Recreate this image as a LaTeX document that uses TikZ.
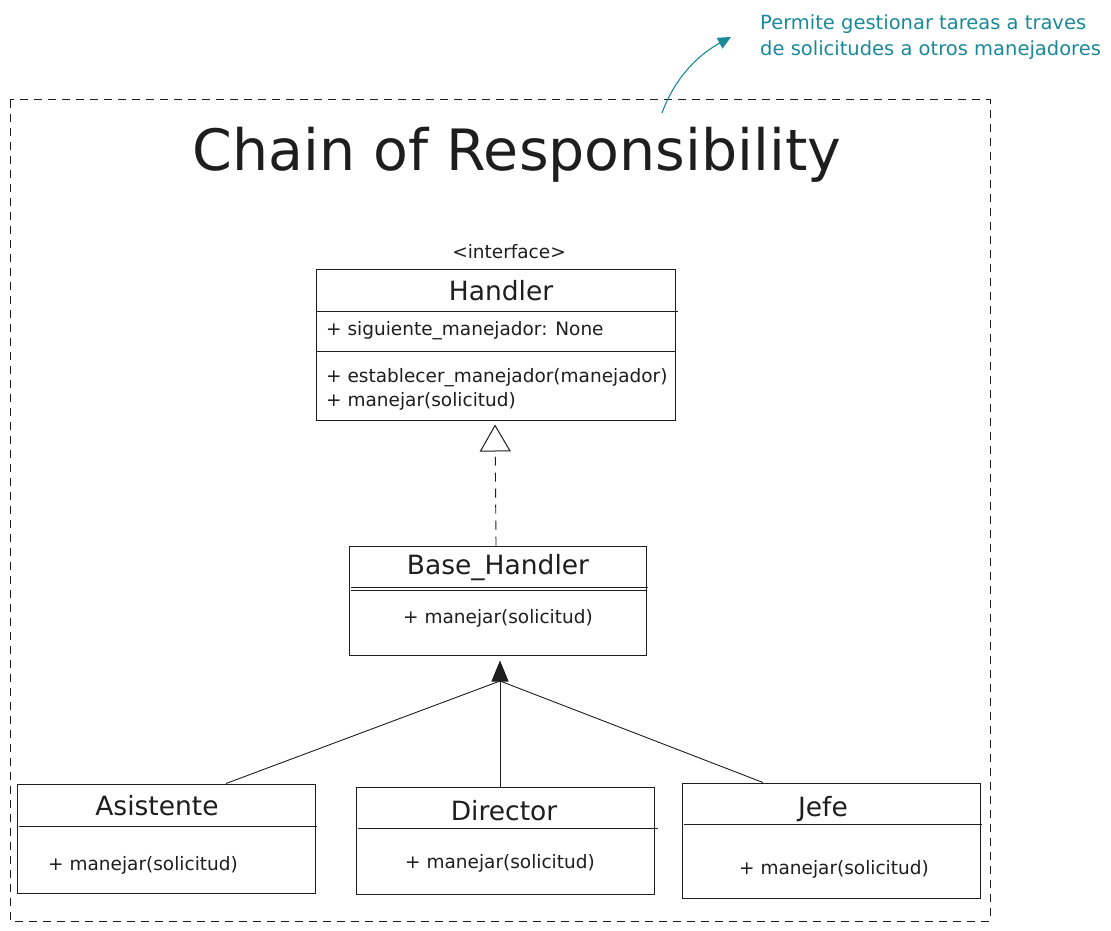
\documentclass[tikz,border=0pt]{standalone}
\usepackage{fontspec}
\setmainfont{DejaVu Sans}
\usetikzlibrary{arrows.meta}
\definecolor{note}{HTML}{1A8A98}
\definecolor{ink}{HTML}{1E1E1E}
\tikzset{
  umlbox/.style={draw=ink, line width=1pt, rectangle, inner sep=0pt},
  divider/.style={draw=ink, line width=1pt},
  ctitle/.style={font=\fontsize{26.5}{30}\selectfont, text=ink, inner sep=0pt},
  member/.style={font=\fontsize{18.5}{24}\selectfont, text=ink, inner sep=0pt},
  link/.style={draw=ink, line width=0.9pt},
}
\begin{document}
\begin{tikzpicture}[x=1pt,y=-1pt]
\useasboundingbox (0,0) rectangle (1111,931);
\fill[white] (0,0) rectangle (1111,931);
% frame
\draw[ink, line width=1pt, dash pattern=on 8pt off 6pt] (10,100) rectangle (990,921);
% title
\node[font=\fontsize{57}{64}\selectfont, text=ink, inner sep=0pt] (title) at (517,155) {Chain of Responsibility};
% annotation
\node[font=\fontsize{19.5}{26}\selectfont, text=note, align=left, anchor=west, inner sep=0pt] (note) at (760,37) {Permite gestionar tareas a traves\\de solicitudes a otros manejadores};
\coordinate (nstart) at (662,113);
\coordinate (nend) at (731,37);
\draw[note, line width=1.1pt, -{Triangle[length=13pt,width=12pt]}] (nstart) .. controls (674,80) and (696,56) .. (nend);
% Handler
\node[member] (iface) at (509,252) {<interface>};
\node[umlbox, minimum width=359pt, minimum height=151pt] (handler) at (495.5,344.5) {};
\draw[divider] (316,311) -- (678,311);
\draw[divider] (316,351) -- (675,351);
\node[ctitle] (htitle) at (501,291) {Handler};
\node[member, anchor=west] (hattr) at (326,331) {+ siguiente\_manejador: None};
\node[member, anchor=west, align=left] (hmeth) at (326,389) {+ establecer\_manejador(manejador)\\+ manejar(solicitud)};
% Base_Handler
\node[umlbox, minimum width=297pt, minimum height=109pt] (base) at (497.5,600.5) {};
\draw[divider] (351,587) -- (648,587);
\draw[divider, line width=0.5pt] (351,590) -- (646,590);
\node[ctitle] (btitle) at (498,568) {Base\_Handler};
\node[member] (bmeth) at (498,618) {+ manejar(solicitud)};
% children
\node[umlbox, minimum width=298pt, minimum height=109pt] (asis) at (166,838.5) {};
\draw[divider] (19,826) -- (317,826);
\node[ctitle] (atitle) at (157,806) {Asistente};
\node[member, anchor=west] (ameth) at (48,865) {+ manejar(solicitud)};

\node[umlbox, minimum width=298pt, minimum height=107pt] (dir) at (505,840.5) {};
\draw[divider] (358,828) -- (658,828);
\node[ctitle] (dtitle) at (504,811) {Director};
\node[member] (dmeth) at (500,863) {+ manejar(solicitud)};

\node[umlbox, minimum width=298pt, minimum height=115pt] (jefe) at (831,840.5) {};
\draw[divider] (684,824) -- (982,824);
\node[ctitle] (jtitle) at (823,809) {Jefe};
\node[member] (jmeth) at (834,869) {+ manejar(solicitud)};
% inheritance (realization)
\draw[link, dashed, dash pattern=on 9pt off 7pt, -{Triangle[open, length=27pt, width=31pt, line width=1pt]}, shorten >=4pt] ([xshift=-1.5pt]base.north) -- ([xshift=-0.5pt]handler.south);
% links to Base_Handler
\coordinate (junc) at (500,681);
\draw[link] ([xshift=60pt]asis.north) -- (junc);
\draw[link] ([xshift=-5pt]dir.north) -- (junc);
\draw[link] ([xshift=-68pt]jefe.north) -- (junc);
\draw[link, -{Triangle[length=21pt,width=17pt]}, shorten >=5pt] (junc) -- ([xshift=2.5pt]base.south);
\end{tikzpicture}
\end{document}
